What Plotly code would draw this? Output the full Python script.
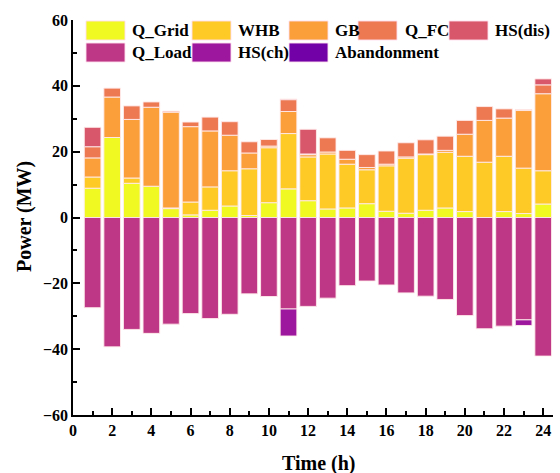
import plotly.graph_objects as go

hours = list(range(1, 25))

# Supply side (MW)
q_grid = [8.9, 24.3, 10.4, 9.5, 2.7, 0.8, 2.2, 3.5, 0.6, 4.5, 8.7, 5.1,
          2.6, 2.9, 4.2, 1.9, 1.3, 2.2, 2.9, 1.8, 0.0, 1.8, 1.2, 4.1]
whb = [3.4, 0.0, 1.6, 0.0, 0.2, 3.9, 7.1, 10.7, 14.2, 16.7, 16.8, 13.3,
       16.7, 13.3, 10.3, 13.8, 16.7, 16.9, 16.9, 16.8, 16.8, 16.8, 13.8, 10.1]
gb = [5.8, 12.3, 17.8, 24.0, 29.1, 22.9, 17.0, 10.8, 4.8, 0.5, 6.7, 0.7,
      0.6, 1.5, 0.7, 0.5, 0.4, 0.2, 0.6, 6.7, 12.7, 11.6, 17.5, 23.4]
q_fc = [3.4, 2.7, 4.1, 1.6, 0.3, 1.4, 4.2, 4.1, 3.4, 2.0, 3.6, 0.2,
        4.3, 2.7, 3.9, 4.0, 4.3, 4.3, 4.3, 4.2, 4.2, 2.8, 0.3, 2.7]
hs_dis = [5.9, 0, 0, 0, 0, 0, 0, 0, 0, 0, 0.2, 7.5,
          0, 0, 0, 0, 0, 0, 0, 0, 0, 0, 0, 1.8]

# Demand side (MW, drawn below zero)
q_load = [27.4, 39.3, 34.0, 35.2, 32.4, 29.2, 30.7, 29.4, 23.2, 24.0, 27.8, 27.0,
          24.5, 20.7, 19.3, 20.5, 22.9, 23.9, 24.9, 29.8, 33.8, 33.0, 31.1, 42.1]
hs_ch = [0, 0, 0, 0, 0, 0, 0, 0, 0, 0, 8.2, 0,
         0, 0, 0, 0, 0, 0, 0, 0, 0, 0, 1.7, 0]
abandonment = [0] * 24

y_ticks = [-60, -40, -20, 0, 20, 40, 60]
x_ticks = list(range(0, 25, 2))

series = [
    ("Q_Grid", q_grid, 1, "#f0f921"),
    ("WHB", whb, 1, "#fdca26"),
    ("GB", gb, 1, "#fb9f3a"),
    ("Q_FC", q_fc, 1, "#ed7953"),
    ("HS(dis)", hs_dis, 1, "#d8576b"),
    ("Q_Load", q_load, -1, "#bd3786"),
    ("HS(ch)", hs_ch, -1, "#9c179e"),
    ("Abandonment", abandonment, -1, "#7201a8"),
]

FONT = "Liberation Serif, Times New Roman, serif"

fig = go.Figure()
for name, vals, sign, color in series:
    fig.add_trace(go.Bar(
        x=hours,
        y=[sign * v if v else None for v in vals],
        name=name,
        width=0.85,
        marker=dict(color=color, line=dict(color="rgba(255,235,235,0.9)", width=1)),
        showlegend=False,
    ))

# Plot-area edges in pixels
L, R, T, B = 73, 553, 20, 415


def px(x):
    return (x - L) / (R - L)


def py(y):
    return (B - y) / (B - T)


# Legend drawn as large swatches with labels (paper coordinates)
legend_rows = [
    [(86, 130), (192, 236), (289, 333), (358, 403), (449, 493)],
    [(86, 130), (192, 236), (289, 333)],
]
row_y = [(21, 40), (43, 62)]
k = 0
for r, row in enumerate(legend_rows):
    y0, y1 = row_y[r]
    for sx, tx in row:
        name, _, _, color = series[k]
        fig.add_shape(type="rect", xref="paper", yref="paper",
                      x0=px(sx), x1=px(sx + 39), y0=py(y1), y1=py(y0),
                      fillcolor=color, line=dict(color="rgba(255,220,235,0.9)", width=1))
        fig.add_annotation(xref="paper", yref="paper", x=px(tx), y=py((y0 + y1) / 2),
                           text="<b>%s</b>" % name, showarrow=False,
                           xanchor="left", yanchor="middle",
                           font=dict(family=FONT, size=17, color="black"))
        k += 1

# Axis titles
fig.add_annotation(xref="paper", yref="paper", x=px(319), y=py(463),
                   text="<b>Time (h)</b>", showarrow=False,
                   xanchor="center", yanchor="middle",
                   font=dict(family=FONT, size=20, color="black"))
fig.add_annotation(xref="paper", yref="paper", x=px(24), y=py(217),
                   text="<b>Power (MW)</b>", showarrow=False, textangle=-90,
                   xanchor="center", yanchor="middle",
                   font=dict(family=FONT, size=20, color="black"))

axis_common = dict(
    showline=True, linecolor="black", linewidth=1.5,
    ticks="inside", ticklen=7, tickwidth=1.5, tickcolor="black",
    showgrid=False, zeroline=False,
    tickfont=dict(family=FONT, size=16, color="black", weight="bold"),
)

fig.update_layout(
    width=560, height=473,
    margin=dict(l=L, r=560 - R, t=T, b=473 - B),
    barmode="relative",
    bargap=0.15,
    plot_bgcolor="white", paper_bgcolor="white",
    xaxis=dict(
        range=[0, 24.5], tickvals=x_ticks,
        minor=dict(ticks="inside", ticklen=4, tickwidth=1.5, tickcolor="black", dtick=1, showgrid=False),
        **axis_common,
    ),
    yaxis=dict(
        range=[-60, 60], tickvals=y_ticks,
        minor=dict(ticks="inside", ticklen=4, tickwidth=1.5, tickcolor="black", dtick=10, tick0=0, showgrid=False),
        **axis_common,
    ),
)

fig.write_html("out.html")
